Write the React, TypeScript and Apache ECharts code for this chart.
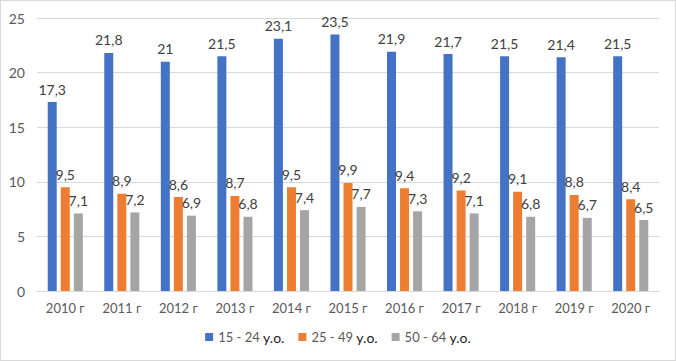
import React, { useEffect, useRef } from "react";
import * as echarts from "echarts";

const categories = ["2010 г", "2011 г", "2012 г", "2013 г", "2014 г", "2015 г", "2016 г", "2017 г", "2018 г", "2019 г", "2020 г"];
const age15_24 = [17.3, 21.8, 21, 21.5, 23.1, 23.5, 21.9, 21.7, 21.5, 21.4, 21.5];
const age25_49 = [9.5, 8.9, 8.6, 8.7, 9.5, 9.9, 9.4, 9.2, 9.1, 8.8, 8.4];
const age50_64 = [7.1, 7.2, 6.9, 6.8, 7.4, 7.7, 7.3, 7.1, 6.8, 6.7, 6.5];
const seriesNames = ["15 - 24 у.о.", "25 - 49 у.о.", "50 - 64 у.о."];
const colors = ["#4472C4", "#ED7D31", "#A5A5A5"];

const FONT = "Lato, 'Open Sans', sans-serif";

export default function App() {
  const ref = useRef<HTMLDivElement>(null);
  useEffect(() => {
    document.body.style.margin = "0";
    const chart = echarts.init(ref.current!, null, { renderer: "svg" });
    const fmt = (v: number) => String(v).replace(".", ",");
    const mk = (name: string, data: number[], color: string) => ({
      name,
      type: "bar",
      data,
      barWidth: 9,
      barGap: "45%",
      barCategoryGap: "38%",
      itemStyle: { color },
      label: {
        show: true,
        position: "top",
        distance: 6,
        color: "#404040",
        fontSize: 14,
        fontFamily: FONT,
        formatter: (p: any) => fmt(p.value),
      },
    });
    chart.setOption({
      animation: false,
      grid: { left: 36, right: 16, top: 17, bottom: 69, containLabel: false },
      legend: {
        bottom: 11,
        left: "center",
        itemWidth: 8,
        itemHeight: 8,
        itemGap: 14,
        icon: "rect",
        data: seriesNames,
        formatter: (name: string) => {
          const a = name.split(" у.о.")[0];
          return `{n|${a} }{u|у.о.}`;
        },
        textStyle: {
          rich: {
            n: { color: "#595959", fontSize: 13, fontFamily: FONT },
            u: { color: "#1a1a1a", fontSize: 14, fontFamily: FONT },
          },
        },
      },
      xAxis: {
        type: "category",
        data: categories,
        axisLine: { lineStyle: { color: "#d9d9d9", width: 1 } },
        axisTick: { show: false },
        axisLabel: { color: "#595959", fontSize: 13, fontFamily: FONT, margin: 10 },
      },
      yAxis: {
        type: "value",
        min: 0,
        max: 25,
        interval: 5,
        axisLine: { show: false },
        axisTick: { show: false },
        splitLine: { lineStyle: { color: "#d9d9d9", width: 1 } },
        axisLabel: { color: "#595959", fontSize: 14, fontFamily: FONT, margin: 12 },
      },
      series: [
        mk(seriesNames[0], age15_24, colors[0]),
        mk(seriesNames[1], age25_49, colors[1]),
        mk(seriesNames[2], age50_64, colors[2]),
      ],
    });
    return () => chart.dispose();
  }, []);
  return (
    <div
      style={{
        position: "absolute",
        left: 0,
        top: 0,
        width: 676,
        height: 361,
        boxSizing: "border-box",
        border: "1px solid #d9d9d9",
        background: "#fff",
      }}
    >
      <div ref={ref} style={{ width: 674, height: 359 }} />
    </div>
  );
}
